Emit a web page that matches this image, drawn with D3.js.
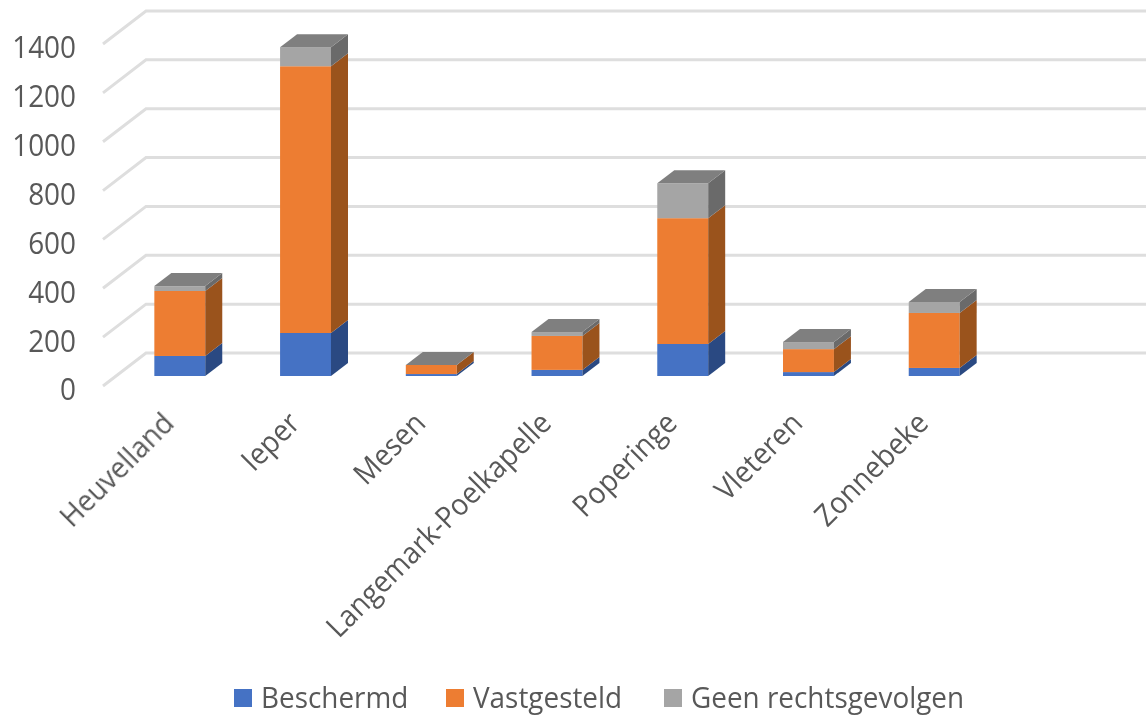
<!DOCTYPE html>
<html lang="en">

<head>
    <meta charset="UTF-8">
    <title>Erfgoed per gemeente</title>
    <script src="https://d3js.org/d3.v7.min.js"></script>
    <style>
        body {
            margin: 0;
            padding: 0;
            background: #fff;
            overflow: hidden;
        }

        text {
            font-family: "Open Sans", sans-serif;
            fill: #595959;
        }
    </style>
</head>

<body>
    <svg id="vis"></svg>
    <script>
        const categories = ["Heuvelland", "Ieper", "Mesen", "Langemark-Poelkapelle", "Poperinge", "Vleteren", "Zonnebeke"];
        const seriesNames = ["Beschermd", "Vastgesteld", "Geen rechtsgevolgen"];
        const beschermd = [82, 176, 8, 25, 131, 16, 33];
        const vastgesteld = [266, 1092, 37, 139, 515, 94, 225];
        const geenRechtsgevolgen = [20, 78, 0, 16, 143, 29, 45];
        const yTicks = [0, 200, 400, 600, 800, 1000, 1200, 1400];

        const frontColors = ["#4472c4", "#ed7d31", "#a5a5a5"];
        const sideColors = ["#2a4a82", "#9a521f", "#6b6b6b"];
        const topColor = "#7f7f7f";

        const width = 1146;
        const height = 716;
        const svg = d3.select("#vis").attr("width", width).attr("height", height);

        // slight blur, the reference is a scaled up screenshot
        svg.append("filter").attr("id", "soft")
            .append("feGaussianBlur").attr("stdDeviation", 0.6);

        const root = svg.append("g").attr("filter", "url(#soft)");

        // y runs along the front edge of the floor, the back wall is shifted by (43,-33)
        const y = d3.scaleLinear().domain([0, 1400]).range([386, 44]);
        const x = d3.scaleBand().domain(categories).range([117, 997]).paddingInner(0.595).paddingOuter(0.297);

        const wall = { dx: 43, dy: -33, left: 103, right: 1146 };
        const bar = { shiftY: -10, dx: 17, dy: -13 };

        // gridlines: slanted part on the side wall, straight part on the back wall
        root.append("g").selectAll("path")
            .data(yTicks)
            .join("path")
            .attr("d", d => `M${wall.left},${y(d)}L${wall.left + wall.dx},${y(d) + wall.dy}H${wall.right}`)
            .attr("fill", "none")
            .attr("stroke", "#dedede")
            .attr("stroke-width", 3);

        // y labels, narrowed a bit because the original font is taller and slimmer
        const yAxis = d3.axisLeft(y).tickValues(yTicks).tickSize(0).tickPadding(0).tickFormat(d3.format("d"));
        const yG = root.append("g").attr("transform", "translate(76,4)").call(yAxis);
        yG.select(".domain").remove();
        yG.selectAll("text")
            .style("font-size", "31px")
            .attr("transform", "scale(0.9,1)");

        // stacked 3d bars
        const stack = d3.stack().keys([0, 1, 2]).value((row, k) => row[k]);
        const rows = categories.map((c, i) => [beschermd[i], vastgesteld[i], geenRechtsgevolgen[i]]);
        const layers = stack(rows);

        categories.forEach((c, i) => {
            const g = root.append("g");
            const x0 = x(c);
            const x1 = x0 + x.bandwidth();
            layers.forEach((layer, k) => {
                const yb = y(layer[i][0]) + bar.shiftY;
                const yt = y(layer[i][1]) + bar.shiftY;
                g.append("rect")
                    .attr("x", x0).attr("y", yt)
                    .attr("width", x1 - x0).attr("height", yb - yt)
                    .attr("fill", frontColors[k]);
                g.append("path")
                    .attr("d", `M${x1},${yb}L${x1 + bar.dx},${yb + bar.dy}V${yt + bar.dy}L${x1},${yt}Z`)
                    .attr("fill", sideColors[k]);
            });
            const top = y(layers[2][i][1]) + bar.shiftY;
            g.append("path")
                .attr("d", `M${x0},${top}L${x0 + bar.dx},${top + bar.dy}H${x1 + bar.dx}L${x1},${top}Z`)
                .attr("fill", topColor);
        });

        // category labels
        root.append("g").selectAll("text")
            .data(categories)
            .join("text")
            .attr("text-anchor", "end")
            .attr("transform", d => `translate(${x(d) + x.bandwidth() / 2 - 4},${425}) rotate(-45) scale(0.93,1)`)
            .style("font-size", "30px")
            .text(d => d);

        // legend
        const legendX = [234, 446, 664];
        const legend = root.append("g").selectAll("g")
            .data(seriesNames)
            .join("g")
            .attr("transform", (d, i) => `translate(${legendX[i]},689)`);
        legend.append("rect")
            .attr("width", 18).attr("height", 18)
            .attr("fill", (d, i) => frontColors[i]);
        legend.append("text")
            .attr("transform", "translate(27,19) scale(0.93,1)")
            .style("font-size", "30px")
            .text(d => d);
    </script>
</body>

</html>
